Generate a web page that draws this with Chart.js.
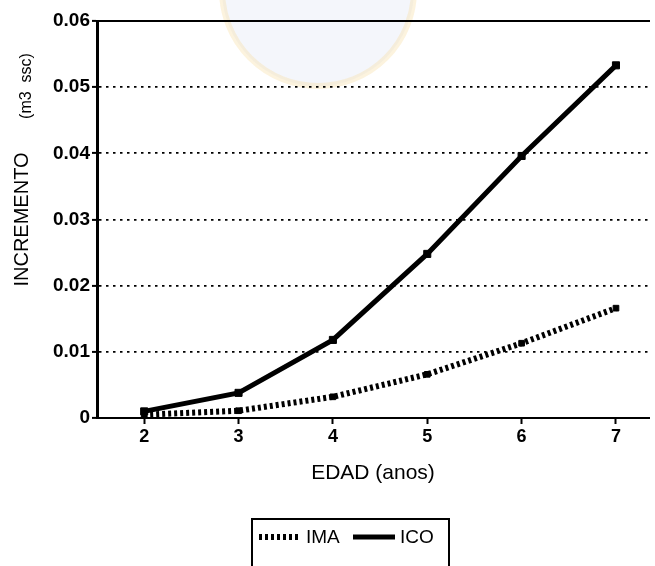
<!DOCTYPE html>
<html>
<head>
<meta charset="utf-8">
<script src="https://cdn.jsdelivr.net/npm/chart.js@4/dist/chart.umd.min.js"></script>
<style>
  html, body { margin: 0; padding: 0; background: #fff; }
  #wrap { width: 655px; height: 566px; position: relative; }
</style>
</head>
<body>
<div id="wrap"><canvas id="chart-incremento"></canvas></div>
<script>
/* -------------------------------------------------- */
/* Data                                                */
/* -------------------------------------------------- */

const EDAD    = [2, 3, 4, 5, 6, 7];
const IMA     = [0.0005, 0.0011, 0.0032, 0.0066, 0.0113, 0.0166];
const ICO     = [0.0010, 0.0038, 0.0118, 0.0248, 0.0396, 0.0533];
const X_TICKS = [2, 3, 4, 5, 6, 7];
const Y_TICKS = [0, 0.01, 0.02, 0.03, 0.04, 0.05, 0.06];

const FONT = "'Liberation Sans', Arial, sans-serif";

Chart.defaults.font.family = FONT;
Chart.defaults.color       = '#000';

const toPoints = ys => EDAD.map((x, i) => ({ x, y: ys[i] }));

/* -------------------------------------------------- */
/* Plugins: faint emblem, unit label, boxed legend     */
/* -------------------------------------------------- */

const emblemPlugin = {
  id: 'emblem',
  beforeDraw(chart) {
    const ctx = chart.ctx;
    ctx.save();
    ctx.beginPath();
    ctx.arc(318, -10, 96, 0, Math.PI * 2);
    ctx.fillStyle = 'rgba(205, 212, 238, 0.22)';
    ctx.fill();
    ctx.lineWidth = 6;
    ctx.strokeStyle = 'rgba(246, 222, 160, 0.35)';
    ctx.stroke();
    ctx.restore();
  },
};

const unitPlugin = {
  id: 'unitLabel',
  afterDraw(chart) {
    const ctx = chart.ctx;
    ctx.save();
    ctx.translate(27, 86);
    ctx.rotate(-Math.PI / 2);
    ctx.font = `16px ${FONT}`;
    ctx.fillStyle = '#000';
    ctx.textAlign = 'center';
    ctx.textBaseline = 'middle';
    ctx.fillText('(m3  ssc)', 0, 0);
    ctx.restore();
  },
};

const LEGEND_X = [259, 353];

const boxLegendPlugin = {
  id: 'boxLegend',
  afterDraw(chart) {
    const ctx = chart.ctx;
    const y = 537;
    ctx.save();
    ctx.strokeStyle = '#000';
    ctx.lineWidth = 2;
    ctx.strokeRect(252, 519, 197, 70);
    chart.data.datasets.forEach((ds, i) => {
      const x0 = LEGEND_X[i];
      ctx.lineWidth = ds.borderWidth;
      ctx.setLineDash(ds.borderDash || []);
      ctx.beginPath();
      ctx.moveTo(x0, y);
      ctx.lineTo(x0 + 42, y);
      ctx.stroke();
      ctx.setLineDash([]);
      ctx.font = `19px ${FONT}`;
      ctx.fillStyle = '#000';
      ctx.textBaseline = 'middle';
      ctx.fillText(ds.label, x0 + 47, y + 1);
    });
    ctx.restore();
  },
};

/* -------------------------------------------------- */
/* Chart                                               */
/* -------------------------------------------------- */

const ctx = document.getElementById('chart-incremento').getContext('2d');
new Chart(ctx, {
  type: 'line',
  data: {
    datasets: [
      {
        label: 'IMA',
        data: toPoints(IMA),
        borderColor: '#000',
        backgroundColor: '#000',
        borderWidth: 6,
        borderDash: [3, 3],
        tension: 0,
        pointStyle: 'rect',
        pointRadius: 4,
        pointBorderWidth: 1,
      },
      {
        label: 'ICO',
        data: toPoints(ICO),
        borderColor: '#000',
        backgroundColor: '#000',
        borderWidth: 5,
        tension: 0,
        pointStyle: 'rect',
        pointRadius: 5,
        pointBorderWidth: 1,
      },
    ],
  },
  options: {
    responsive: true,
    maintainAspectRatio: false,
    animation: false,
    layout: { padding: { left: 0, top: 21, right: 0, bottom: 0 } },
    plugins: {
      legend: { display: false },
      tooltip: { enabled: false },
    },
    scales: {
      x: {
        type: 'linear',
        min: 1.5,
        max: 7.35,
        afterBuildTicks: s => { s.ticks = X_TICKS.map(v => ({ value: v })); },
        afterFit: s => { s.height = 148; },
        ticks: { font: { size: 18, weight: 'bold' }, padding: 2, color: '#000' },
        grid: { drawOnChartArea: false, drawTicks: true, tickLength: 6, tickColor: '#000', tickWidth: 2 },
        border: { display: true, color: '#000', width: 2 },
        title: {
          display: true,
          text: 'EDAD (anos)',
          font: { size: 21 },
          color: '#000',
          padding: { top: 0, bottom: 80 },
        },
      },
      xTop: {
        type: 'linear',
        position: 'top',
        min: 1.5,
        max: 7.35,
        ticks: { display: false },
        grid: { display: false },
        border: { display: true, color: '#000', width: 2 },
        afterFit: s => { s.height = 0; },
      },
      y: {
        min: 0,
        max: 0.06,
        afterBuildTicks: s => { s.ticks = Y_TICKS.map(v => ({ value: v })); },
        afterFit: s => { s.width = 97; },
        ticks: {
          font: { size: 19, weight: 'bold' },
          padding: 2,
          color: '#000',
          callback: v => (v === 0 ? '0' : v.toFixed(2)),
        },
        grid: {
          color: c => (c.tick && (c.tick.value === 0 || c.tick.value >= 0.06) ? 'rgba(0,0,0,0)' : '#000'),
          lineWidth: 1.8,
          tickLength: 5,
          tickColor: '#000',
          tickWidth: 2,
        },
        border: { display: true, color: '#000', width: 3, dash: [2.5, 4.5] },
        title: {
          display: true,
          text: 'INCREMENTO',
          font: { size: 20 },
          color: '#000',
          padding: { top: 10, bottom: 0 },
        },
      },
    },
  },
  plugins: [emblemPlugin, unitPlugin, boxLegendPlugin],
});
</script>
</body>
</html>
